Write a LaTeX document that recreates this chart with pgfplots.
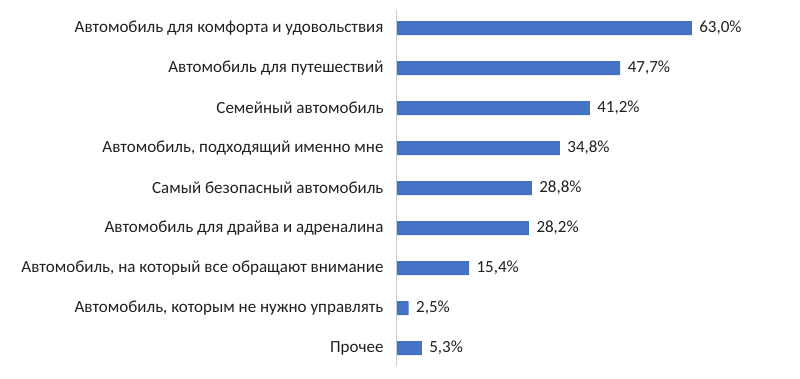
\documentclass[border=0pt]{standalone}
\usepackage{pgfplots}
\pgfplotsset{compat=1.18}
\usepackage{fontspec}
\setmainfont{Carlito}
\definecolor{barblue}{HTML}{4472C4}
\definecolor{txt}{HTML}{202020}
\begin{document}
\begin{tikzpicture}[x=1pt,y=1pt]
\useasboundingbox (-397,-10) rectangle (403,368);
\begin{axis}[
  at={(0,0)}, anchor=south west,
  scale only axis,
  width=327.6pt, height=360pt,
  xbar, bar width=14pt,
  xmin=0, xmax=70,
  ymin=-0.5, ymax=8.5,
  y dir=reverse,
  ytick={0,...,8},
  yticklabels={Автомобиль для комфорта и удовольствия,
    Автомобиль для путешествий,
    Семейный автомобиль,
    {Автомобиль, подходящий именно мне},
    Самый безопасный автомобиль,
    Автомобиль для драйва и адреналина,
    {Автомобиль, на который все обращают внимание},
    {Автомобиль, которым не нужно управлять},
    Прочее},
  yticklabel style={font=\fontsize{17}{19}\selectfont, text=txt, xshift=-10pt},
  major tick length=0pt,
  xtick=\empty,
  axis line style={draw=none},
  nodes near coords={\pgfmathprintnumber{\pgfplotspointmeta}\%},
  nodes near coords style={font=\fontsize{17}{19}\selectfont, text=txt, anchor=west, xshift=4pt,
    /pgf/number format/.cd, fixed, fixed zerofill, precision=1, use comma, assume math mode=true},
  clip=false,
]
\addplot[fill=barblue, draw=none] coordinates {
  (63.0,0) (47.7,1) (41.2,2) (34.8,3) (28.8,4) (28.2,5) (15.4,6) (2.5,7) (5.3,8)
};
\draw[gray!40, line width=1pt] (axis cs:0,-0.45) -- (axis cs:0,8.45);
\end{axis}
\end{tikzpicture}
\end{document}
